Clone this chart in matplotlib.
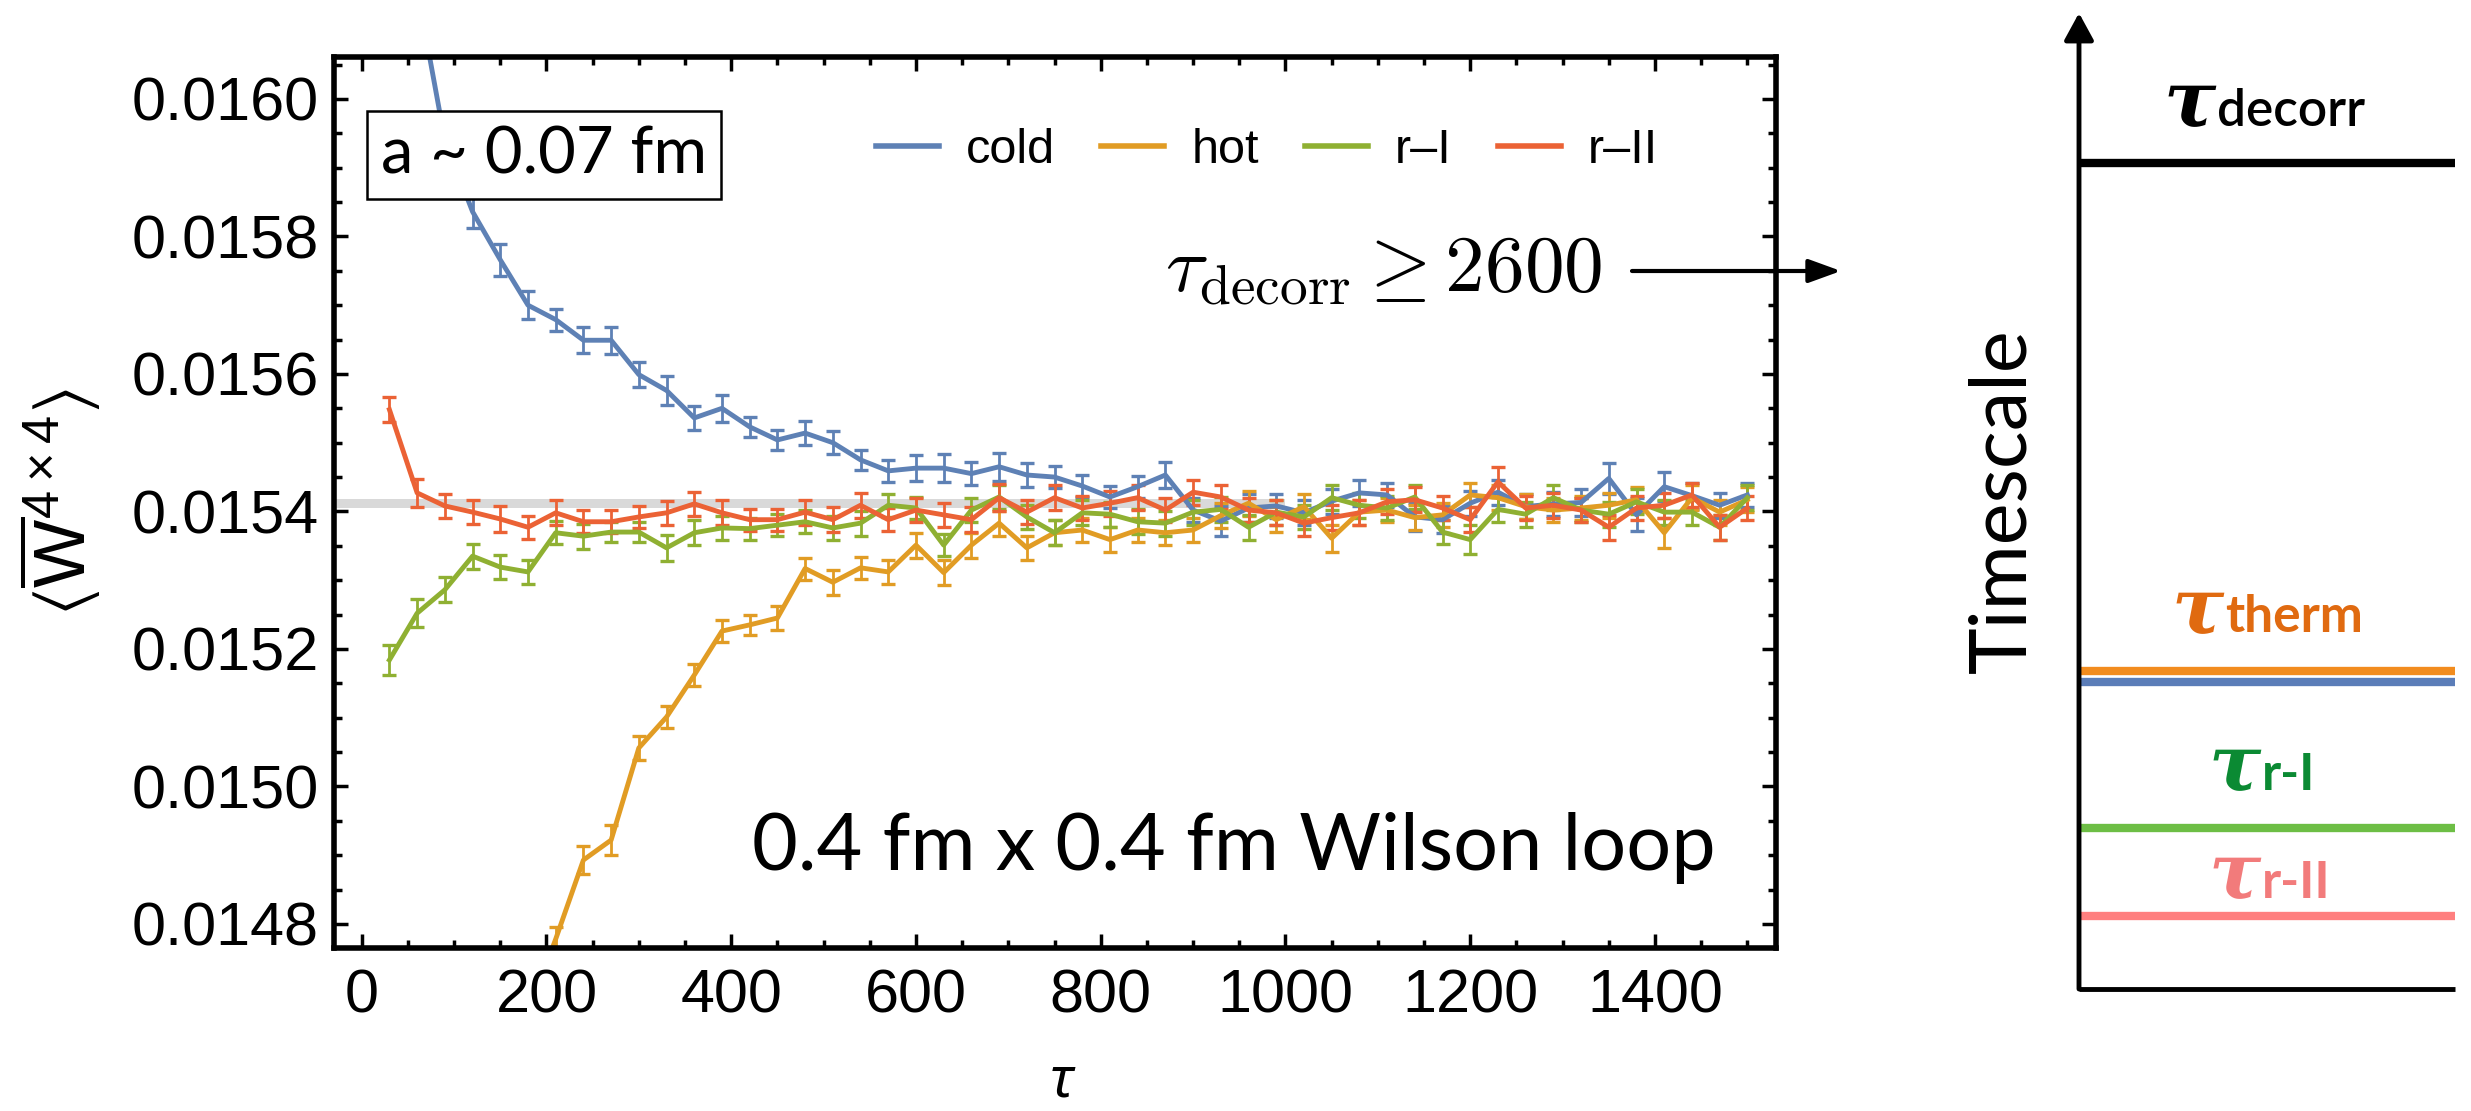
import matplotlib
matplotlib.use("Agg")
import matplotlib.pyplot as plt
from matplotlib.ticker import MultipleLocator, FixedLocator
from matplotlib.lines import Line2D

plt.rcParams['font.family'] = ['Liberation Sans', 'DejaVu Sans']
plt.rcParams['mathtext.fontset'] = 'custom'
plt.rcParams['mathtext.rm'] = 'Liberation Sans'
plt.rcParams['mathtext.it'] = 'Liberation Sans:italic'
plt.rcParams['mathtext.bf'] = 'Liberation Sans:bold'
plt.rcParams['mathtext.fallback'] = 'stixsans'

# ---------------- data ----------------
tau = list(range(30, 1501, 30))

cold = [0.01650, 0.01616, 0.01594, 0.015836, 0.015766, 0.015700, 0.015679, 0.015649, 0.015649, 0.015599,
        0.015576, 0.015536, 0.015550, 0.015523, 0.015504, 0.015514, 0.015500, 0.015475, 0.015459, 0.015463,
        0.015463, 0.015455, 0.015465, 0.015453, 0.015450, 0.015437, 0.015421, 0.015436, 0.015453, 0.015402,
        0.015386, 0.015405, 0.015408, 0.015398, 0.015415, 0.015427, 0.015424, 0.015392, 0.015388, 0.015412,
        0.015428, 0.015407, 0.015411, 0.015413, 0.015448, 0.015395, 0.015436, 0.015423, 0.015409, 0.015424]
hot = [0.01370, 0.01400, 0.01422, 0.01440, 0.01455, 0.01467, 0.014778, 0.014893, 0.014922, 0.015056,
       0.015101, 0.015162, 0.015226, 0.015235, 0.015245, 0.015317, 0.015297, 0.015318, 0.015312, 0.015351,
       0.015311, 0.015351, 0.015383, 0.015347, 0.015369, 0.015373, 0.015359, 0.015373, 0.015369, 0.015373,
       0.015394, 0.015412, 0.015388, 0.015407, 0.015361, 0.015399, 0.015402, 0.015391, 0.015395, 0.015424,
       0.015420, 0.015407, 0.015402, 0.015405, 0.015409, 0.015417, 0.015369, 0.015420, 0.015399, 0.015417]
r1 = [0.015184, 0.015252, 0.015286, 0.015335, 0.015319, 0.015312, 0.015369, 0.015364, 0.015370, 0.015370,
      0.015347, 0.015369, 0.015376, 0.015375, 0.015380, 0.015385, 0.015376, 0.015383, 0.015409, 0.015405,
      0.015351, 0.015402, 0.015421, 0.015392, 0.015369, 0.015398, 0.015396, 0.015385, 0.015383, 0.015399,
      0.015403, 0.015377, 0.015399, 0.015392, 0.015420, 0.015409, 0.015405, 0.015421, 0.015370, 0.015359,
      0.015403, 0.015396, 0.015420, 0.015402, 0.015396, 0.015414, 0.015399, 0.015399, 0.015377, 0.015420]
r2 = [0.015548, 0.015427, 0.015408, 0.015399, 0.015389, 0.015377, 0.015398, 0.015385, 0.015385, 0.015392,
      0.015398, 0.015411, 0.015398, 0.015388, 0.015388, 0.015399, 0.015388, 0.015409, 0.015388, 0.015402,
      0.015395, 0.015388, 0.015420, 0.015399, 0.015420, 0.015405, 0.015412, 0.015420, 0.015402, 0.015428,
      0.015421, 0.015402, 0.015398, 0.015383, 0.015391, 0.015398, 0.015414, 0.015417, 0.015405, 0.015388,
      0.015443, 0.015405, 0.015409, 0.015402, 0.015377, 0.015405, 0.015409, 0.015424, 0.015377, 0.015405]

cold_err = [2.5e-5, 2.5e-5, 2.4e-5, 2.4e-5, 2.3e-5, 2.0e-5, 1.6e-5, 1.9e-5, 2.0e-5, 1.8e-5,
            2.1e-5, 1.8e-5, 2.0e-5, 1.5e-5, 1.5e-5, 1.7e-5, 1.7e-5, 1.5e-5, 1.6e-5, 1.9e-5,
            2.0e-5, 1.7e-5, 2.0e-5, 1.7e-5, 1.6e-5, 1.6e-5, 1.6e-5, 1.6e-5, 1.9e-5, 1.8e-5,
            2.2e-5, 2.0e-5, 1.8e-5, 1.8e-5, 1.8e-5, 1.9e-5, 1.8e-5, 2.0e-5, 2.0e-5, 1.8e-5,
            1.8e-5, 1.8e-5, 1.8e-5, 1.9e-5, 2.2e-5, 2.4e-5, 2.1e-5, 1.9e-5, 1.8e-5, 1.8e-5]
hot_err = [1.8e-5, 1.8e-5, 1.8e-5, 1.8e-5, 1.8e-5, 1.8e-5, 1.8e-5, 2.1e-5, 2.2e-5, 1.7e-5,
           1.6e-5, 1.6e-5, 1.6e-5, 1.5e-5, 1.8e-5, 1.6e-5, 1.8e-5, 1.6e-5, 1.7e-5, 1.8e-5,
           1.8e-5, 1.8e-5, 1.8e-5, 1.8e-5, 1.8e-5, 1.7e-5, 1.8e-5, 1.8e-5, 1.8e-5, 1.8e-5,
           1.8e-5, 1.8e-5, 1.8e-5, 1.8e-5, 2.0e-5, 1.8e-5, 1.8e-5, 1.8e-5, 1.8e-5, 1.8e-5,
           1.8e-5, 1.8e-5, 1.8e-5, 1.8e-5, 1.8e-5, 1.8e-5, 2.2e-5, 1.8e-5, 1.8e-5, 1.8e-5]
r1_err = [2.2e-5, 2.0e-5, 1.8e-5, 1.8e-5, 1.7e-5, 1.8e-5, 1.7e-5, 1.8e-5, 1.5e-5, 1.5e-5,
          1.9e-5, 1.8e-5, 1.8e-5, 1.6e-5, 1.6e-5, 1.7e-5, 1.8e-5, 1.8e-5, 1.7e-5, 1.6e-5,
          1.6e-5, 1.7e-5, 1.7e-5, 1.8e-5, 1.8e-5, 1.8e-5, 1.8e-5, 1.8e-5, 1.8e-5, 1.8e-5,
          1.8e-5, 1.8e-5, 1.8e-5, 1.8e-5, 1.8e-5, 1.8e-5, 1.8e-5, 1.8e-5, 1.8e-5, 2.1e-5,
          1.8e-5, 1.8e-5, 1.8e-5, 1.8e-5, 1.8e-5, 1.8e-5, 1.8e-5, 1.8e-5, 1.8e-5, 1.8e-5]
r2_err = [1.8e-5, 2.0e-5, 1.8e-5, 1.7e-5, 1.9e-5, 1.7e-5, 1.8e-5, 1.7e-5, 1.7e-5, 1.6e-5,
          1.7e-5, 1.8e-5, 1.8e-5, 1.6e-5, 1.6e-5, 1.8e-5, 1.8e-5, 1.8e-5, 1.7e-5, 1.8e-5,
          1.8e-5, 1.8e-5, 2.0e-5, 1.7e-5, 1.8e-5, 1.8e-5, 1.8e-5, 1.8e-5, 1.8e-5, 1.8e-5,
          1.8e-5, 1.8e-5, 1.8e-5, 1.8e-5, 1.8e-5, 1.8e-5, 1.8e-5, 1.8e-5, 1.8e-5, 1.8e-5,
          2.2e-5, 1.8e-5, 1.8e-5, 1.8e-5, 1.8e-5, 1.8e-5, 1.8e-5, 1.8e-5, 1.8e-5, 1.8e-5]

series_names = ['cold', 'hot', 'r\u2013I', 'r\u2013II']
series_colors = ['#5E81B5', '#E19C24', '#8FB032', '#EB6235']

ref_value = 0.0154115
ref_halfwidth = 0.0000065
ref_tau_end = 1000

x_ticks = [0, 200, 400, 600, 800, 1000, 1200, 1400]
y_ticks = [0.0148, 0.0150, 0.0152, 0.0154, 0.0156, 0.0158, 0.0160]
x_lim = (-30, 1531)
y_lim = (0.014765, 0.016061)

# schematic timescale levels (relative heights)
levels = {'decorr': 0.846, 'therm': 0.326, 'cold': 0.315, 'r-I': 0.165, 'r-II': 0.075}

# ---------------- figure ----------------
W, H = 2471, 1111
fig = plt.figure(figsize=(W / 100, H / 100), dpi=100)
ax = fig.add_axes([334 / W, 1 - 948 / H, (1776 - 334) / W, (948 - 57) / H])

ax.fill_between([x_lim[0], ref_tau_end], ref_value - ref_halfwidth, ref_value + ref_halfwidth,
                color='#D9D9D9', lw=0, zorder=0.5)

for vals, errs, name, col in zip([cold, hot, r1, r2], [cold_err, hot_err, r1_err, r2_err],
                                 series_names, series_colors):
    ax.errorbar(tau, vals, yerr=errs, color=col, lw=3.5, elinewidth=2.0,
                capsize=4.7, capthick=2.4, label=name)

ax.set_xlim(*x_lim)
ax.set_ylim(*y_lim)
ax.xaxis.set_major_locator(FixedLocator(x_ticks))
ax.xaxis.set_minor_locator(MultipleLocator(50))
ax.yaxis.set_major_locator(FixedLocator(y_ticks))
ax.yaxis.set_minor_locator(MultipleLocator(0.00005))
ax.set_yticklabels([f"{v:.4f}" for v in y_ticks])
ax.tick_params(which='both', direction='in', top=True, right=True, width=2.5, color='black')
ax.tick_params(which='major', length=10, labelsize=44)
ax.tick_params(axis='y', which='major', pad=11)
ax.tick_params(axis='x', which='major', pad=15)
ax.tick_params(which='minor', length=6)
for sp in ax.spines.values():
    sp.set_linewidth(4)

ax.set_xlabel('\u03c4', fontsize=40, fontstyle='italic', family='Noto Sans')
ax.xaxis.set_label_coords(0.504, -0.150)
ax.xaxis.label.set_va('center')
ax.set_ylabel(r'$\langle\overline{\mathrm{W}}^{4\times4}\rangle$', fontsize=52)
ax.yaxis.set_label_coords(-0.19, 0.5)
ax.yaxis.label.set_va('center')

handles = [Line2D([], [], color=c, lw=4) for c in series_colors]
ax.legend(handles, series_names, loc='center', bbox_to_anchor=(0.647, 0.8956), ncol=4,
          frameon=False, fontsize=35, handlelength=1.3, handletextpad=0.55,
          columnspacing=0.95, borderpad=0, borderaxespad=0)

ax.text(0.1456, 0.890, 'a ~ 0.07 fm', transform=ax.transAxes, ha='center', va='center',
        fontsize=47, family='Lato', zorder=10,
        bbox=dict(boxstyle='square,pad=0.22', fc='white', ec='black', lw=1.8))

ax.text(0.290, 0.0875, '0.4 fm x 0.4 fm Wilson loop', transform=ax.transAxes, ha='left',
        va='baseline', fontsize=57, family='Lato')

fig.text(1602 / W, 1 - 291 / H, r'$\tau_{\rm decorr} \geq 2600$', ha='right', va='baseline',
         fontsize=57, math_fontfamily='cm')
ax.annotate('', xy=(1841 / W, 1 - 271 / H), xytext=(1632 / W, 1 - 271 / H),
            xycoords='figure fraction', textcoords='figure fraction', annotation_clip=False,
            arrowprops=dict(arrowstyle='-|>,head_length=0.55,head_width=0.2', lw=3,
                            color='black', mutation_scale=36, shrinkA=0, shrinkB=0))

# ---------------- schematic panel ----------------
sax = fig.add_axes([2079 / W, 1 - 989 / H, (2455 - 2079) / W, (989 - 13) / H])
sax.set_xlim(0, 1)
sax.set_ylim(0, 1)
sax.axis('off')
sax.annotate('', xy=(0, 1), xytext=(0, 0), xycoords='axes fraction', annotation_clip=False,
             arrowprops=dict(arrowstyle='-|>,head_length=0.55,head_width=0.3', lw=3.5,
                             color='black', mutation_scale=30, shrinkA=0, shrinkB=0))
sax.plot([0, 1], [0, 0], color='black', lw=3.5, clip_on=False, solid_capstyle='butt')
level_colors = {'decorr': 'black', 'therm': '#F28C1E', 'cold': '#5B7DB8',
                'r-I': '#6DBE45', 'r-II': '#FF7F7F'}
for key in ['decorr', 'therm', 'cold', 'r-I', 'r-II']:
    sax.plot([0, 1], [levels[key], levels[key]], color=level_colors[key], lw=6,
             clip_on=False, solid_capstyle='butt')

labels = [('decorr', 'decorr', 'black', 0.225, 0.884, 'semibold'),
          ('therm', 'therm', '#E06A10', 0.246, 0.365, 'bold'),
          ('r-I', 'r-I', '#0B8A33', 0.344, 0.204, 'bold'),
          ('r-II', 'r-II', '#F27B7B', 0.344, 0.093, 'bold')]
for key, word, col, xt, yb, wt in labels:
    t = sax.text(xt, yb, '\u03c4', color=col, fontsize=56, family='DejaVu Serif',
                 fontstyle='italic', fontweight='bold', ha='left', va='baseline')
    sax.annotate(word, xy=(1.0, 0.22), xycoords=t, xytext=(1, 0), textcoords='offset points',
                 color=col, fontsize=37, family='Lato', fontweight=wt,
                 ha='left', va='baseline')

fig.text(2003 / W, 1 - 501 / H, 'Timescale', rotation=90, ha='center', va='center',
         fontsize=57, family='Lato')

fig.savefig('out.png', dpi=100)
